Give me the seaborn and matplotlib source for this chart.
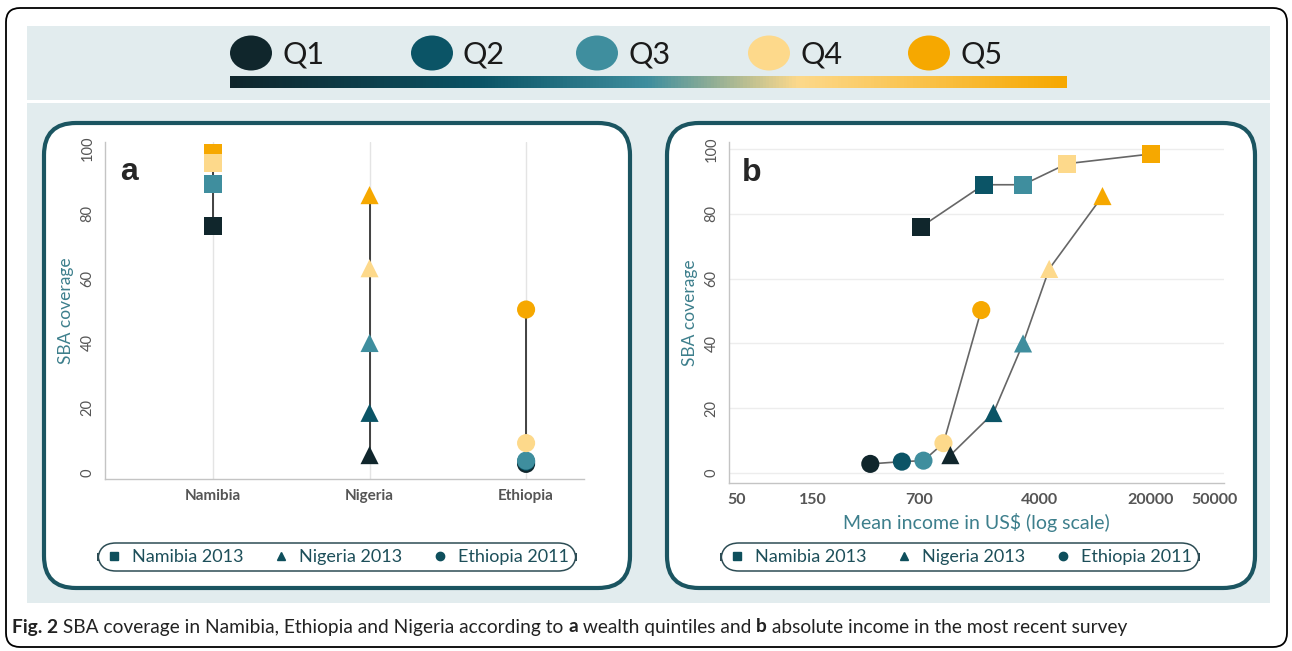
import numpy as np
import pandas as pd
import matplotlib.pyplot as plt
import seaborn as sns
from matplotlib.patches import FancyBboxPatch, Ellipse
from matplotlib.lines import Line2D
from matplotlib.colors import LinearSegmentedColormap
from matplotlib.ticker import FixedLocator, NullLocator

# ---------------------------
# data
# ---------------------------
quintiles = ["Q1", "Q2", "Q3", "Q4", "Q5"]
countries = ["Namibia", "Nigeria", "Ethiopia"]
survey_labels = ["Namibia 2013", "Nigeria 2013", "Ethiopia 2011"]

sba_namibia = [76, 89, 89, 95.5, 98.5]
sba_nigeria = [5.5, 18.5, 40, 63, 85.5]
sba_ethiopia = [2.8, 3.5, 3.8, 9.2, 50.3]

income_namibia = [720, 1780, 3150, 5950, 20100]
income_nigeria = [1100, 2050, 3150, 4600, 9950]
income_ethiopia = [345, 545, 745, 995, 1720]

sba_ticks = [0, 20, 40, 60, 80, 100]
income_ticks = [50, 150, 700, 4000, 20000, 50000]

q_colors = ["#10262c", "#0b5466", "#3f8e9e", "#fdd98b", "#f6a800"]
palette = dict(zip(quintiles, q_colors))
markers = {"Namibia": "s", "Nigeria": "^", "Ethiopia": "o"}

rows = []
for c, sba, inc in zip(countries,
                       [sba_namibia, sba_nigeria, sba_ethiopia],
                       [income_namibia, income_nigeria, income_ethiopia]):
    for q, s, i in zip(quintiles, sba, inc):
        rows.append({"country": c, "quintile": q, "sba": s, "income": i})
df = pd.DataFrame(rows)
df["xpos"] = pd.Categorical(df["country"], categories=countries).codes

# stacking order of the markers
order_a = {"Q5": 0, "Q1": 1, "Q2": 2, "Q3": 3, "Q4": 4}
df_a = df.assign(o=df["quintile"].map(order_a)).sort_values("o", kind="stable")
order_b = {"Ethiopia": 0, "Nigeria": 1, "Namibia": 2}
df_b = df.assign(o=df["country"].map(order_b)).sort_values("o", kind="stable")

# ---------------------------
# figure + background
# ---------------------------
sns.set_style("white")
plt.rcParams["font.family"] = ["Lato", "DejaVu Sans"]

W, H = 1292, 651
fig = plt.figure(figsize=(W / 100, H / 100), dpi=100)
fig.patch.set_facecolor("white")


def box(x0, y0, x1, y1, r=0.0, **kw):
    # pixel box measured from the top left corner
    style = "round,pad=0,rounding_size=%g" % r if r else "square,pad=0"
    p = FancyBboxPatch((x0 / 100, (H - y1) / 100), (x1 - x0) / 100, (y1 - y0) / 100,
                       boxstyle=style, transform=fig.dpi_scale_trans, zorder=-5, **kw)
    fig.patches.append(p)


def fx(x):
    return x / W


def fy(y):
    return 1 - y / H


box(6, 8, 1287, 647, r=0.14, facecolor="white", edgecolor="black", lw=1.3)
box(27, 26, 1270, 100, facecolor="#e2ecee", edgecolor="none")
box(27, 103, 1270, 603, facecolor="#e2ecee", edgecolor="none")
box(44, 123, 630, 588, r=0.32, facecolor="white", edgecolor="#1b5561", lw=3)
box(667, 123, 1255, 588, r=0.32, facecolor="white", edgecolor="#1b5561", lw=3)

# header: quintile key and gradient bar
q_centers = [251, 432, 597, 769, 929]
for q, col, cx in zip(quintiles, q_colors, q_centers):
    e = Ellipse((cx / 100, (H - 53) / 100), 0.42, 0.35, transform=fig.dpi_scale_trans,
                facecolor=col, edgecolor="none", zorder=2)
    fig.patches.append(e)
    fig.text(fx(cx + 31), fy(54), q, fontsize=22, color="#1a1a1a", va="center", ha="left")

cmap = LinearSegmentedColormap.from_list(
    "quint", [(0, q_colors[0]), (0.3, q_colors[1]), (0.5, q_colors[2]),
              (0.68, q_colors[3]), (1.0, q_colors[4])])
ax_bar = fig.add_axes([fx(230), fy(88), fx(1067) - fx(230), 12 / H])
ax_bar.imshow(np.linspace(0, 1, 256)[None, :], aspect="auto", cmap=cmap)
ax_bar.axis("off")

# ---------------------------
# shared styling
# ---------------------------
teal = "#3d7f8c"
tick_col = "#555555"
spine_col = "#c4c4c4"


def style_axes(ax):
    sns.despine(ax=ax)
    for s in ["left", "bottom"]:
        ax.spines[s].set_color(spine_col)
        ax.spines[s].set_linewidth(1)
    ax.tick_params(axis="both", direction="out", length=4, width=1, color=spine_col,
                   labelcolor=tick_col, labelsize=10.5)
    ax.set_yticks(sba_ticks)
    plt.setp(ax.get_yticklabels(), rotation=90, va="center")
    ax.set_ylabel("SBA coverage", color=teal, fontsize=12.5, labelpad=5)
    ax.set_facecolor("none")


def add_legend(ax, cx):
    handles = [Line2D([], [], ls="", marker=markers[c], color="#0e4f5c", markersize=6)
               for c in countries]
    leg = ax.legend(handles, survey_labels, ncol=3, loc="center",
                    bbox_to_anchor=(cx / 100, (H - 557) / 100),
                    bbox_transform=fig.dpi_scale_trans, frameon=True, fontsize=13,
                    handletextpad=0.5, columnspacing=1.6, borderpad=0.35,
                    handlelength=1.0, labelcolor="#1d4f5a")
    fr = leg.get_frame()
    fr.set_boxstyle("round", pad=0, rounding_size=1.0)
    fr.set_edgecolor("#2d4d55")
    fr.set_linewidth(1.1)
    fr.set_alpha(1)


# ---------------------------
# panel a: SBA by wealth quintile
# ---------------------------
ax_a = fig.add_axes([fx(105), fy(479), fx(584) - fx(105), (479 - 142) / H])
sns.lineplot(data=df, x="xpos", y="sba", units="country", estimator=None, sort=False,
             color="#333333", lw=1.3, legend=False, ax=ax_a, zorder=2)
sns.scatterplot(data=df_a, x="xpos", y="sba", hue="quintile", style="country",
                palette=palette, markers=markers, s=170, linewidth=0, legend=False,
                ax=ax_a, zorder=3)
ax_a.set_xlim(-0.69, 2.37)
ax_a.set_ylim(-1.85, 101.85)
style_axes(ax_a)
ax_a.set_xticks(range(len(countries)))
ax_a.set_xticklabels(countries, fontweight="bold", fontsize=11)
ax_a.set_xlabel("")
ax_a.xaxis.grid(True, color="#e4e4e4", lw=1)
ax_a.set_axisbelow(True)
ax_a.text(0.05, 0.91, "a", transform=ax_a.transAxes, fontsize=23, fontweight="bold",
          family="Liberation Sans", ha="center", va="center")
add_legend(ax_a, 337)

# ---------------------------
# panel b: SBA by absolute income
# ---------------------------
ax_b = fig.add_axes([fx(729), fy(483), fx(1224) - fx(729), (483 - 142) / H])
sns.lineplot(data=df, x="income", y="sba", units="country", estimator=None, sort=False,
             color="#666666", lw=1.2, legend=False, ax=ax_b, zorder=2)
sns.scatterplot(data=df_b, x="income", y="sba", hue="quintile", style="country",
                palette=palette, markers=markers, s=170, linewidth=0, legend=False,
                ax=ax_b, zorder=3)
ax_b.set_xscale("log")
ax_b.set_xlim(44.6, 57800)
ax_b.set_ylim(-3.1, 102.2)
style_axes(ax_b)
ax_b.xaxis.set_major_locator(FixedLocator(income_ticks))
ax_b.xaxis.set_minor_locator(NullLocator())
ax_b.set_xticklabels([str(t) for t in income_ticks], fontweight="bold", fontsize=11.5)
ax_b.set_xlabel(r"Mean income in US\$ (log scale)", color=teal, fontsize=14, labelpad=4)
ax_b.yaxis.grid(True, color="#ededed", lw=1)
ax_b.set_axisbelow(True)
ax_b.text(0.045, 0.91, "b", transform=ax_b.transAxes, fontsize=23, fontweight="bold",
          family="Liberation Sans", ha="center", va="center")
add_legend(ax_b, 960)

# ---------------------------
# caption with bold pieces
# ---------------------------
pieces = [("Fig. 2", "bold"),
          (" SBA coverage in Namibia, Ethiopia and Nigeria according to ", "normal"),
          ("a", "bold"), (" wealth quintiles and ", "normal"), ("b", "bold"),
          (" absolute income in the most recent survey", "normal")]
renderer = fig.canvas.get_renderer()
x = 12
for txt, wt in pieces:
    t = fig.text(fx(x), fy(627), txt, fontsize=13.8, fontweight=wt, color="#222222",
                 va="center", ha="left")
    x = t.get_window_extent(renderer).x1

fig.savefig("out.png", dpi=100)
